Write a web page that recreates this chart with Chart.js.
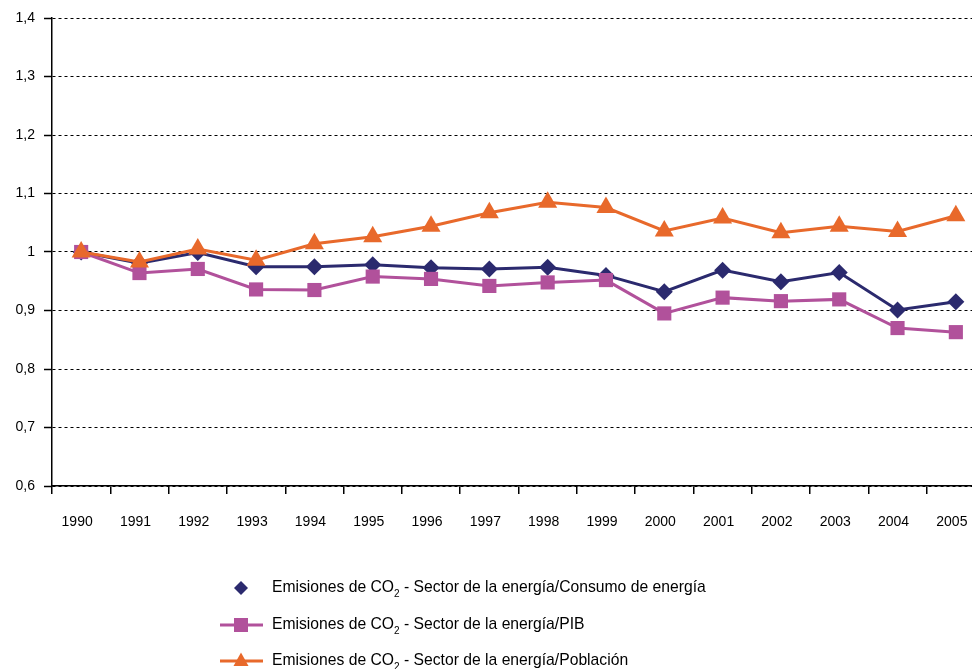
<html lang="es">
<head>
  <meta charset="UTF-8" />
  <title>Emisiones de CO2 - Sector de la energía</title>
  <script src="https://cdn.jsdelivr.net/npm/chart.js"></script>
  <style>
    body {
      margin: 0;
      background-color: #ffffff;
      overflow: hidden;
    }
    .wrap {
      position: relative;
      width: 1000px;
      height: 669px;
    }
  </style>
</head>
<body>

<div class="wrap">
  <canvas id="co2Chart"></canvas>
</div>

<script>
  // Índices 1990 = 1
  const years = ['1990', '1991', '1992', '1993', '1994', '1995', '1996', '1997',
                 '1998', '1999', '2000', '2001', '2002', '2003', '2004', '2005'];
  const consumo = [1.000, 0.981, 0.999, 0.975, 0.975, 0.978, 0.973, 0.971,
                   0.974, 0.960, 0.932, 0.969, 0.949, 0.965, 0.901, 0.915];
  const pib = [1.000, 0.964, 0.971, 0.936, 0.935, 0.958, 0.954, 0.942,
               0.948, 0.952, 0.895, 0.922, 0.916, 0.919, 0.870, 0.863];
  const poblacion = [1.000, 0.983, 1.005, 0.986, 1.014, 1.026, 1.044, 1.067,
                     1.085, 1.076, 1.036, 1.058, 1.033, 1.044, 1.035, 1.062];

  const seriesNames = ['Sector de la energía/Consumo de energía',
                       'Sector de la energía/PIB',
                       'Sector de la energía/Población'];

  const navy = '#2b2a6e';
  const magenta = '#b1519b';
  const orange = '#e8692b';

  Chart.defaults.font.family = '"Liberation Sans", Arial, Helvetica, sans-serif';
  Chart.defaults.color = '#000';

  // leyenda dibujada a mano (CO2 con subíndice, primera serie sin línea)
  const legendPlugin = {
    id: 'co2Legend',
    afterDraw(chart) {
      const ctx = chart.ctx;
      const rows = [
        { color: navy, shape: 'diamond', line: false, y: 588 },
        { color: magenta, shape: 'square', line: true, y: 625 },
        { color: orange, shape: 'triangle', line: true, y: 661 }
      ];
      const big = '15.7px "Liberation Sans", Arial, sans-serif';
      const small = '10px "Liberation Sans", Arial, sans-serif';
      ctx.save();
      rows.forEach((r, i) => {
        const cx = 241;
        ctx.fillStyle = r.color;
        ctx.strokeStyle = r.color;
        if (r.line) {
          ctx.lineWidth = 3;
          ctx.beginPath();
          ctx.moveTo(220, r.y);
          ctx.lineTo(263, r.y);
          ctx.stroke();
        }
        ctx.beginPath();
        if (r.shape === 'diamond') {
          ctx.moveTo(cx, r.y - 7);
          ctx.lineTo(cx + 7, r.y);
          ctx.lineTo(cx, r.y + 7);
          ctx.lineTo(cx - 7, r.y);
        } else if (r.shape === 'square') {
          ctx.rect(cx - 7, r.y - 7, 14, 14);
        } else {
          ctx.moveTo(cx, r.y - 8.5);
          ctx.lineTo(cx + 7.5, r.y + 5);
          ctx.lineTo(cx - 7.5, r.y + 5);
        }
        ctx.closePath();
        ctx.fill();

        ctx.fillStyle = '#000';
        ctx.textBaseline = 'middle';
        ctx.textAlign = 'left';
        ctx.font = big;
        let x = 272;
        const a = 'Emisiones de CO';
        ctx.fillText(a, x, r.y);
        x += ctx.measureText(a).width;
        ctx.font = small;
        ctx.fillText('2', x, r.y + 6);
        x += ctx.measureText('2').width;
        ctx.font = big;
        ctx.fillText(' - ' + seriesNames[i], x, r.y);
      });
      ctx.restore();
    }
  };

  new Chart(document.getElementById('co2Chart'), {
    type: 'line',
    data: {
      labels: years,
      datasets: [
        {
          label: 'Emisiones de CO2 - ' + seriesNames[0],
          data: consumo,
          borderColor: navy,
          backgroundColor: navy,
          borderWidth: 3,
          pointStyle: 'rectRot',
          pointRadius: 8.5,
          pointBorderWidth: 0,
          tension: 0,
          order: 3
        },
        {
          label: 'Emisiones de CO2 - ' + seriesNames[1],
          data: pib,
          borderColor: magenta,
          backgroundColor: magenta,
          borderWidth: 3,
          pointStyle: 'rect',
          pointRadius: 10,
          pointBorderWidth: 0,
          tension: 0,
          order: 2
        },
        {
          label: 'Emisiones de CO2 - ' + seriesNames[2],
          data: poblacion,
          borderColor: orange,
          backgroundColor: orange,
          borderWidth: 3,
          pointStyle: 'triangle',
          pointRadius: 11,
          pointBorderWidth: 0,
          tension: 0,
          order: 1
        }
      ]
    },
    options: {
      responsive: true,
      maintainAspectRatio: false,
      animation: false,
      layout: {
        padding: { top: 18, right: 15, bottom: 139, left: 0 }
      },
      plugins: {
        legend: { display: false },
        tooltip: { enabled: false }
      },
      scales: {
        x: {
          offset: true,
          grid: {
            offset: true,
            drawOnChartArea: false,
            drawTicks: true,
            tickLength: 8,
            color: '#000',
            lineWidth: 1.5
          },
          border: { color: '#000', width: 1.5 },
          ticks: {
            color: '#000',
            font: { size: 14 },
            padding: 20,
            labelOffset: -4,
            maxRotation: 0,
            autoSkip: false
          },
          afterFit(scale) { scale.height = 44; }
        },
        y: {
          min: 0.6,
          max: 1.4,
          grid: {
            color: '#000',
            lineWidth: 1,
            tickLength: 8,
            tickColor: '#000',
            tickWidth: 1.5,
            tickBorderDash: []
          },
          border: { color: '#000', width: 1.5, dash: [3, 3] },
          ticks: {
            stepSize: 0.1,
            color: '#000',
            font: { size: 14 },
            padding: 9,
            callback: (v) => String(Math.round(v * 10) / 10).replace('.', ',')
          },
          afterFit(scale) { scale.width = 52; }
        }
      }
    },
    plugins: [legendPlugin]
  });
</script>

</body>
</html>
